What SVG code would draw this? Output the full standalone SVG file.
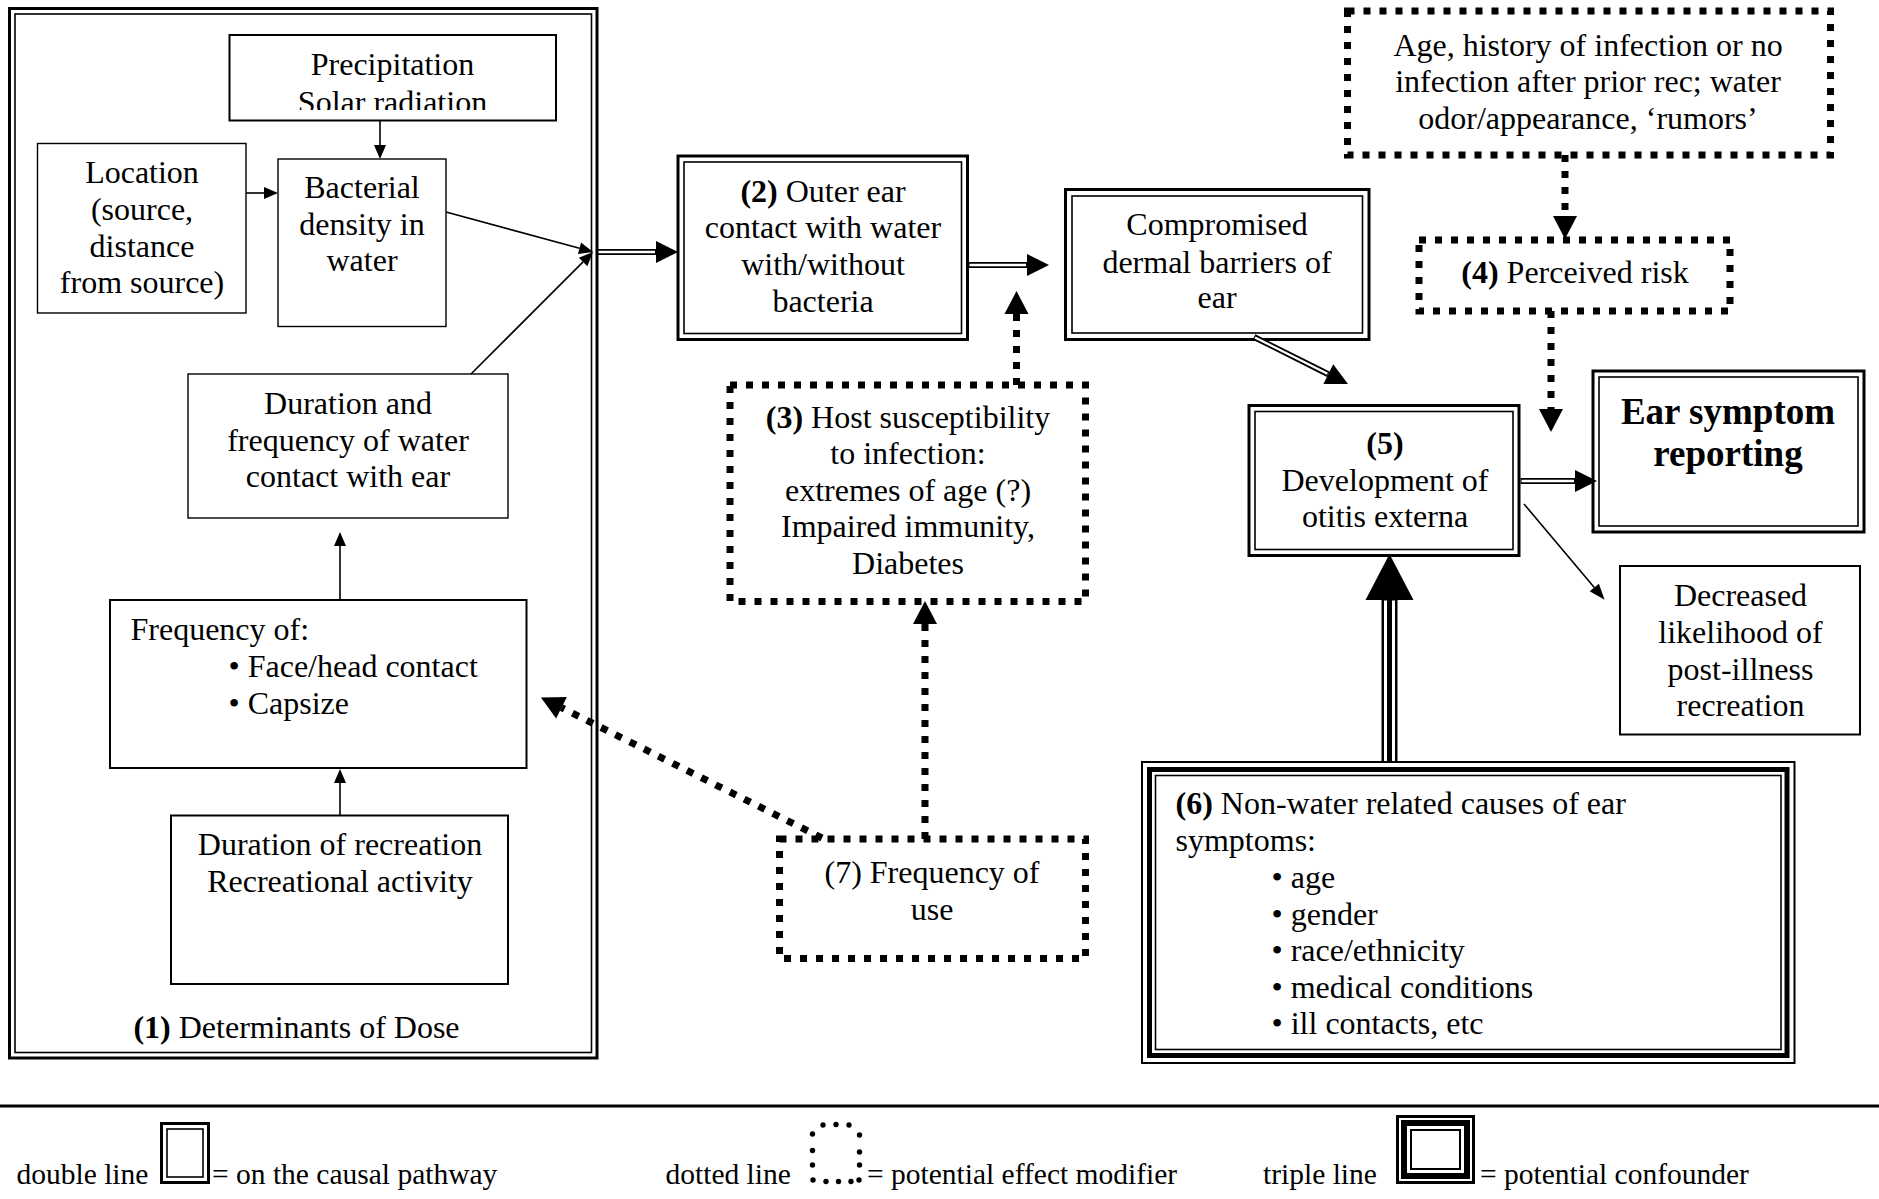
<svg xmlns="http://www.w3.org/2000/svg" width="1879" height="1199" viewBox="0 0 1879 1199">
<style>
.t{font-family:"Liberation Serif","Times New Roman",serif;font-size:32px;fill:#000}
.c{text-anchor:middle}
.b{font-weight:bold}
.lg{font-size:29.5px}
.s1{fill:none;stroke:#000;stroke-width:2}
.s0{fill:none;stroke:#000;stroke-width:1.4}
.dout{fill:none;stroke:#000;stroke-width:3}
.din{fill:none;stroke:#000;stroke-width:1.6}
.dot{fill:none;stroke:#000;stroke-width:7;stroke-dasharray:7 9}
.ln{fill:none;stroke:#000;stroke-width:1.6}
.dk{fill:none;stroke:#000;stroke-width:6}
.dw{fill:none;stroke:#fff;stroke-width:2.4}
</style>
<defs>
<marker id="ah-s" markerUnits="userSpaceOnUse" markerWidth="14" markerHeight="12" refX="0" refY="6" orient="auto" overflow="visible"><path d="M0,0 L14,6 L0,12 z" fill="#000"/></marker>
<marker id="ah-t" markerUnits="userSpaceOnUse" markerWidth="16" markerHeight="12" refX="0" refY="6" orient="auto" overflow="visible"><path d="M0,0 L16,6 L0,12 z" fill="#000"/></marker>
<marker id="ah-m" markerUnits="userSpaceOnUse" markerWidth="22" markerHeight="22" refX="0" refY="11" orient="auto" overflow="visible"><path d="M0,0 L22,11 L0,22 z" fill="#000"/></marker>
<marker id="ah-d" markerUnits="userSpaceOnUse" markerWidth="23" markerHeight="24" refX="0" refY="12" orient="auto" overflow="visible"><path d="M0,0 L23,12 L0,24 z" fill="#000"/></marker>
<marker id="ah-l" markerUnits="userSpaceOnUse" markerWidth="46" markerHeight="48" refX="0" refY="24" orient="auto" overflow="visible"><path d="M0,0 L46,24 L0,48 z" fill="#000"/></marker>
<clipPath id="clipP"><rect x="229" y="35" width="327" height="75"/></clipPath>
</defs>
<rect x="0" y="0" width="1879" height="1199" fill="#fff"/>

<g id="box1-determinants">
<rect class="dout" x="9.5" y="8.5" width="587.5" height="1049.5"/>
<rect class="din" x="15" y="14" width="576.5" height="1038.5"/>
<text class="t c" x="296.5" y="1037.5"><tspan class="b">(1)</tspan> Determinants of Dose</text>
</g>
<g id="precipitation">
<rect class="s1" x="229.5" y="35" width="326.5" height="85.5"/>
<text class="t c" x="392.5" y="75">Precipitation</text>
<text class="t c" x="392.5" y="112.5" clip-path="url(#clipP)">Solar radiation</text>
</g>
<g id="location">
<rect class="s0" x="37.5" y="143.5" width="208.5" height="169.5"/>
<text class="t c" x="142" y="183">Location</text>
<text class="t c" x="142" y="220">(source,</text>
<text class="t c" x="142" y="256.5">distance</text>
<text class="t c" x="142" y="293">from source)</text>
</g>
<g id="bacterial">
<rect class="s0" x="278" y="159" width="168" height="167.5"/>
<text class="t c" x="362" y="198">Bacterial</text>
<text class="t c" x="362" y="234.5">density in</text>
<text class="t c" x="362" y="271">water</text>
</g>
<g id="duration-frequency">
<rect class="s0" x="188" y="374" width="320" height="144"/>
<text class="t c" x="348" y="414">Duration and</text>
<text class="t c" x="348" y="450.5">frequency of water</text>
<text class="t c" x="348" y="487">contact with ear</text>
</g>
<g id="frequency-of">
<rect class="s1" x="110" y="600" width="416.5" height="168"/>
<text class="t" x="130.5" y="640">Frequency of:</text>
<text class="t" x="228.5" y="677">• Face/head contact</text>
<text class="t" x="228.5" y="714">• Capsize</text>
</g>
<g id="duration-recreation">
<rect class="s1" x="171" y="815.5" width="337" height="168.5"/>
<text class="t c" x="340" y="855">Duration of recreation</text>
<text class="t c" x="340" y="892">Recreational activity</text>
</g>
<g id="box2-outer-ear">
<rect class="dout" x="678" y="156" width="289.5" height="183.5"/>
<rect class="din" x="684" y="162" width="277.5" height="171.5"/>
<text class="t c" x="823" y="201.7"><tspan class="b">(2)</tspan> Outer ear</text>
<text class="t c" x="823" y="238">contact with water</text>
<text class="t c" x="823" y="275">with/without</text>
<text class="t c" x="823" y="311.7">bacteria</text>
</g>
<g id="compromised">
<rect class="dout" x="1065.5" y="189.5" width="303.5" height="150"/>
<rect class="din" x="1072" y="196" width="290.5" height="137"/>
<text class="t c" x="1217" y="235.4">Compromised</text>
<text class="t c" x="1217" y="272.5">dermal barriers of</text>
<text class="t c" x="1217" y="308">ear</text>
</g>
<g id="box3-host">
<rect class="dot" x="730" y="385" width="355.5" height="216.5"/>
<text class="t c" x="908" y="427.7"><tspan class="b">(3)</tspan> Host susceptibility</text>
<text class="t c" x="908" y="464">to infection:</text>
<text class="t c" x="908" y="500.5">extremes of age (?)</text>
<text class="t c" x="908" y="537">Impaired immunity,</text>
<text class="t c" x="908" y="573.5">Diabetes</text>
</g>
<g id="box7-frequency-use">
<rect class="dot" x="779.5" y="839" width="306" height="119.5"/>
<text class="t c" x="932" y="883">(7) Frequency of</text>
<text class="t c" x="932" y="920">use</text>
</g>
<g id="age-history">
<rect class="dot" x="1347.5" y="11" width="483" height="144"/>
<text class="t c" x="1588" y="55.5">Age, history of infection or no</text>
<text class="t c" x="1588" y="92">infection after prior rec; water</text>
<text class="t c" x="1588" y="128.5">odor/appearance, ‘rumors’</text>
</g>
<g id="box4-perceived-risk">
<rect class="dot" x="1419" y="240" width="311" height="71"/>
<text class="t c" x="1575" y="283"><tspan class="b">(4)</tspan> Perceived risk</text>
</g>
<g id="box5-otitis">
<rect class="dout" x="1249" y="405.5" width="270" height="150"/>
<rect class="din" x="1255" y="411.5" width="258" height="138"/>
<text class="t c b" x="1385" y="454">(5)</text>
<text class="t c" x="1385" y="490.5">Development of</text>
<text class="t c" x="1385" y="527">otitis externa</text>
</g>
<g id="ear-symptom-reporting">
<rect class="dout" x="1593" y="371" width="271" height="161"/>
<rect class="din" x="1599" y="377" width="259" height="149"/>
<text class="t c b" x="1728" y="424" style="font-size:37px">Ear symptom</text>
<text class="t c b" x="1728" y="466" style="font-size:37px">reporting</text>
</g>
<g id="decreased-likelihood">
<rect class="s1" x="1620" y="566" width="240" height="168.5"/>
<text class="t c" x="1740.5" y="605.5">Decreased</text>
<text class="t c" x="1740.5" y="642.5">likelihood of</text>
<text class="t c" x="1740.5" y="679.5">post-illness</text>
<text class="t c" x="1740.5" y="716">recreation</text>
</g>
<g id="box6-non-water">
<rect fill="none" stroke="#000" stroke-width="2" x="1142" y="762" width="652.5" height="301"/>
<rect fill="none" stroke="#000" stroke-width="5" x="1149.5" y="769.5" width="637.5" height="286"/>
<rect fill="none" stroke="#000" stroke-width="1.6" x="1155.5" y="775.5" width="625.5" height="274"/>
<text class="t" x="1175.5" y="814"><tspan class="b">(6)</tspan> Non-water related causes of ear</text>
<text class="t" x="1175.5" y="851">symptoms:</text>
<text class="t" x="1271.5" y="888">• age</text>
<text class="t" x="1271.5" y="924.5">• gender</text>
<text class="t" x="1271.5" y="961">• race/ethnicity</text>
<text class="t" x="1271.5" y="997.5">• medical conditions</text>
<text class="t" x="1271.5" y="1034">• ill contacts, etc</text>
</g>

<g id="connectors">
<path class="ln" d="M380,121 L380,145" marker-end="url(#ah-s)"/>
<path class="ln" d="M246,193 L264,193" marker-end="url(#ah-s)"/>
<path class="ln" d="M446,212 L579.5,248.3" marker-end="url(#ah-s)"/>
<path class="ln" d="M471,374 L583.1,261.9" marker-end="url(#ah-s)"/>
<path class="ln" d="M340,600 L340,546" marker-end="url(#ah-s)"/>
<path class="ln" d="M340,815.5 L340,783" marker-end="url(#ah-s)"/>
<path class="dk" d="M597,252 L656,252" marker-end="url(#ah-m)"/>
<path class="dw" d="M598.5,252 L655,252"/>
<path class="dk" d="M968,265 L1027,265" marker-end="url(#ah-m)"/>
<path class="dw" d="M969.5,265 L1026,265"/>
<path class="dk" d="M1254,337 L1328.3,374.2" marker-end="url(#ah-m)"/>
<path class="dw" d="M1255,337.5 L1327.4,373.7"/>
<path class="dk" d="M1520.5,481 L1575,481" marker-end="url(#ah-m)"/>
<path class="dw" d="M1521.5,481 L1574,481"/>
<path class="ln" d="M1524,504 L1594.3,587.5" marker-end="url(#ah-t)"/>
<path fill="none" stroke="#000" stroke-width="16" d="M1389.5,761 L1389.5,600" marker-end="url(#ah-l)"/>
<path fill="none" stroke="#fff" stroke-width="11" d="M1389.5,761 L1389.5,600.5"/>
<path fill="none" stroke="#000" stroke-width="5" d="M1389.5,762 L1389.5,600"/>
<path class="dot" d="M1016.5,385 L1016.5,314" marker-end="url(#ah-d)"/>
<path class="dot" d="M925,839 L925,624" marker-end="url(#ah-d)"/>
<path class="dot" d="M822,838 L561.5,707.7" marker-end="url(#ah-d)"/>
<path class="dot" d="M1565,155 L1565,216" marker-end="url(#ah-d)"/>
<path class="dot" d="M1551,311 L1551,409" marker-end="url(#ah-d)"/>
</g>

<g id="legend">
<line x1="0" y1="1106" x2="1879" y2="1106" stroke="#000" stroke-width="3"/>
<text class="t lg" x="16.5" y="1184">double line</text>
<rect class="dout" x="161.5" y="1123.5" width="47" height="59"/>
<rect class="din" x="167" y="1129" width="36" height="48"/>
<text class="t lg" x="212" y="1184">= on the causal pathway</text>
<text class="t lg" x="665.5" y="1184">dotted line</text>
<g fill="#000">
<circle cx="823" cy="1125" r="2.7"/><circle cx="836" cy="1124.5" r="2.7"/><circle cx="849" cy="1125" r="2.7"/>
<circle cx="812.5" cy="1134" r="2.7"/><circle cx="812.5" cy="1150.5" r="2.7"/><circle cx="812.5" cy="1165" r="2.7"/><circle cx="813" cy="1180" r="2.7"/>
<circle cx="859.5" cy="1135" r="2.7"/><circle cx="859.5" cy="1152" r="2.7"/><circle cx="859.5" cy="1165" r="2.7"/><circle cx="859" cy="1180" r="2.7"/>
<circle cx="826" cy="1181.5" r="2.7"/><circle cx="838.5" cy="1181.5" r="2.7"/><circle cx="851" cy="1181.5" r="2.7"/>
</g>
<text class="t lg" x="867" y="1184">= potential effect modifier</text>
<text class="t lg" x="1263" y="1184">triple line</text>
<rect fill="none" stroke="#000" stroke-width="3" x="1397.5" y="1116.5" width="76" height="66"/>
<rect fill="none" stroke="#000" stroke-width="6" x="1404" y="1123" width="63" height="53"/>
<rect fill="none" stroke="#000" stroke-width="2" x="1411" y="1130" width="49" height="39"/>
<text class="t lg" x="1480" y="1184">= potential confounder</text>
</g>
</svg>
